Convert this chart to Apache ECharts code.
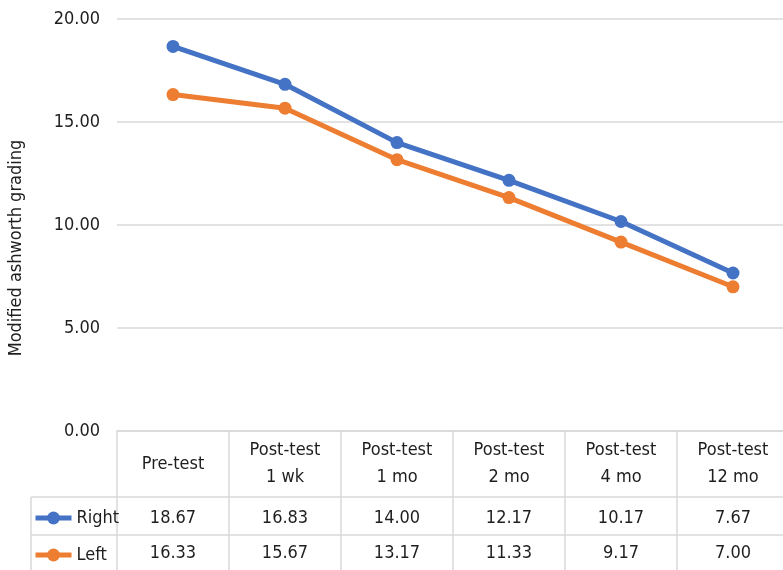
<!DOCTYPE html>
<html><head><meta charset="utf-8">
<script src="https://cdn.jsdelivr.net/npm/echarts@6/dist/echarts.min.js"></script>
<style>html,body{margin:0;padding:0;background:#fff}#c{width:783px;height:570px}</style>
</head><body><div id="c"></div>
<script>
const categories = ['Pre-test', 'Post-test\n1 wk', 'Post-test\n1 mo', 'Post-test\n2 mo', 'Post-test\n4 mo', 'Post-test\n12 mo'];
const seriesNames = ['Right', 'Left'];
const rightValues = [18.67, 16.83, 14.00, 12.17, 10.17, 7.67];
const leftValues = [16.33, 15.67, 13.17, 11.33, 9.17, 7.00];
const yMin = 0, yMax = 20, yInterval = 5;

const FONT = '"DejaVu Sans Condensed", "DejaVu Sans", sans-serif';
const FS = 18;
const TXT = '#1e1e1e';
const LINE = '#d9d9d9';
const BLUE = '#4472C4';
const ORANGE = '#ED7D31';

const chart = echarts.init(document.getElementById('c'), null, {renderer: 'canvas'});

function rowAxis(values, margin) {
  return {
    type: 'category', gridIndex: 0, position: 'bottom', data: categories,
    axisLine: {show: false}, axisTick: {show: false},
    axisLabel: {
      interval: 0, margin: margin, verticalAlign: 'middle',
      fontFamily: FONT, fontSize: FS, color: TXT,
      formatter: (v, i) => values[i].toFixed(2)
    }
  };
}

chart.setOption({
  animation: false,
  backgroundColor: '#fff',
  textStyle: {fontFamily: FONT},
  grid: {left: 117, top: 19, width: 672, height: 412, containLabel: false, outerBoundsMode: 'none'},
  legend: {
    data: seriesNames, orient: 'vertical', left: 33, top: 509,
    itemWidth: 36, itemHeight: 16, itemGap: 19, padding: 0,
    lineStyle: {width: 5},
    textStyle: {fontFamily: FONT, fontSize: FS, color: TXT}
  },
  xAxis: [
    {
      type: 'category', data: categories, boundaryGap: true, position: 'bottom',
      axisLine: {show: true, lineStyle: {color: LINE, width: 1.5}},
      axisTick: {show: true, interval: 0, length: 140, lineStyle: {color: LINE, width: 1.5}},
      axisLabel: {
        interval: 0, margin: 33, verticalAlign: 'middle', lineHeight: 27,
        fontFamily: FONT, fontSize: FS, color: TXT
      }
    },
    rowAxis(rightValues, 87),
    rowAxis(leftValues, 122)
  ],
  yAxis: {
    type: 'value', min: yMin, max: yMax, interval: yInterval,
    axisLine: {show: false}, axisTick: {show: false},
    splitLine: {lineStyle: {color: LINE, width: 1.5}},
    axisLabel: {
      margin: 17, fontFamily: FONT, fontSize: FS, color: TXT,
      formatter: v => v.toFixed(2)
    },
    name: 'Modified ashworth grading', nameLocation: 'middle', nameRotate: 90, nameGap: 92,
    nameTextStyle: {fontFamily: FONT, fontSize: 18, color: TXT, padding: [0, 46, 0, 0]}
  },
  series: [
    {
      name: seriesNames[0], type: 'line', data: rightValues, xAxisIndex: 0,
      symbol: 'circle', symbolSize: 13,
      lineStyle: {color: BLUE, width: 5}, itemStyle: {color: BLUE}
    },
    {
      name: seriesNames[1], type: 'line', data: leftValues, xAxisIndex: 0,
      symbol: 'circle', symbolSize: 13,
      lineStyle: {color: ORANGE, width: 5}, itemStyle: {color: ORANGE}
    }
  ],
  graphic: [
    {type: 'line', shape: {x1: 31, y1: 497, x2: 790, y2: 497}, style: {stroke: LINE, lineWidth: 1.5}, silent: true},
    {type: 'line', shape: {x1: 31, y1: 535, x2: 790, y2: 535}, style: {stroke: LINE, lineWidth: 1.5}, silent: true},
    {type: 'line', shape: {x1: 31, y1: 497, x2: 31, y2: 572}, style: {stroke: LINE, lineWidth: 1.5}, silent: true}
  ]
});
</script></body></html>
